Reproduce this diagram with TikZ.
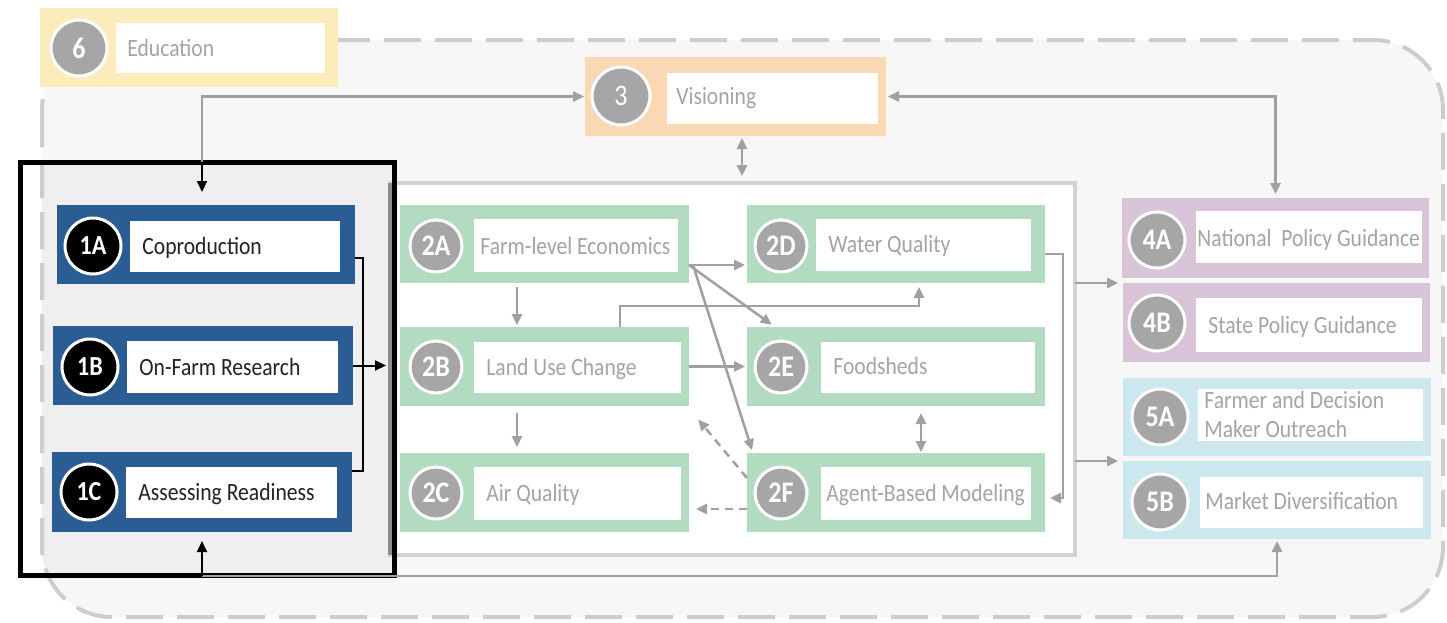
\documentclass[tikz,border=0pt]{standalone}
\usepackage{fontspec}
\setmainfont{Carlito}
\usetikzlibrary{arrows.meta,fit,calc}

\definecolor{framefill}{HTML}{F7F7F7}
\definecolor{framedash}{HTML}{CDCDCD}
\definecolor{panelgray}{HTML}{EFEFEF}
\definecolor{eduyellow}{HTML}{FDECBB}
\definecolor{visorange}{HTML}{FBD8B4}
\definecolor{coblue}{HTML}{2B5C94}
\definecolor{modgreen}{HTML}{B3DBC2}
\definecolor{polmauve}{HTML}{D9C4D7}
\definecolor{outblue}{HTML}{CDE7EE}
\definecolor{numgray}{HTML}{A6A6A6}
\definecolor{labgray}{HTML}{A4A4A4}
\definecolor{darktext}{HTML}{222222}
\definecolor{linkgray}{HTML}{A0A0A0}
\definecolor{hubborder}{HTML}{D2D2D2}
\definecolor{hubedge}{HTML}{8C8C8C}

% labels are set slightly taller than the font's natural shape
\newcommand\tallbox[1]{\scalebox{1}[1.15]{#1}}

\tikzset{
  region/.style={inner sep=0pt, outer sep=0pt, draw=none},
  whitebox/.style={region, fill=white},
  num/.style={circle, fill=numgray, draw=white, line width=1.5pt, minimum size=28pt,
    inner sep=0pt, text=white, font=\fontsize{13}{15}\selectfont\bfseries},
  numsmall/.style={num, minimum size=26pt},
  numdark/.style={num, fill=black, font=\fontsize{12}{14}\selectfont\bfseries},
  lab/.style={anchor=base west, inner sep=0pt, text=labgray, font=\fontsize{10.8}{14.5}\selectfont},
  labdark/.style={lab, text=darktext},
  link/.style={draw=linkgray, line width=1.25pt, -{Triangle[length=5.5pt,width=5pt]}},
  dualink/.style={link, {Triangle[length=5.5pt,width=5pt]}-{Triangle[length=5.5pt,width=5pt]}},
  dashlink/.style={link, dash pattern=on 4pt off 3pt},
  blink/.style={draw=black, line width=1pt, -{Triangle[length=5.5pt,width=5pt]}},
}

\begin{document}
\begin{tikzpicture}[x=0.5pt, y=-0.5pt]
\useasboundingbox (0,0) rectangle (1447,622);

% outer dashed frame: background and shaded panel behind group 1
\fill[framefill, rounded corners=35pt] (42,40) rectangle (1443,617);
\begin{scope}
  \clip[rounded corners=35pt] (42,40) rectangle (1443,617);
  \fill[panelgray] (20,162) rectangle (394,575);
\end{scope}
\draw[framedash, line width=2pt, dash pattern=on 18.5pt off 7pt, rounded corners=35pt]
  (42,40) rectangle (1443,617);

% group 2 container
\node[region, fill=white, draw=hubborder, line width=2pt, fit={(390,183) (1075,555)}] (hub) {};
\draw[hubedge, line width=2.5pt] (hub.north west) -- (hub.south west);

% frame around group 1
\node[region, draw=black, line width=2.5pt, fit={(20,162) (394,575)}] (grp1) {};

% 6 Education
\node[region, fill=eduyellow, fit={(40,8) (338,87)}] (b6) {};
\node[whitebox, fit={(116,23) (325,73)}] (w6) {};
\node[num] (n6) at (79,48) {\tallbox{6}};
\node[lab] (t6) at (127,56) {\tallbox{Education}};

% 3 Visioning
\node[region, fill=visorange, fit={(585,57) (886,136)}] (b3) {};
\node[whitebox, fit={(667,73) (878,124)}] (w3) {};
\node[num, minimum size=29pt, font=\fontsize{13}{15}\selectfont] (n3) at (621,96) {\tallbox{3}};
\node[lab] (t3) at (676,104) {\tallbox{Visioning}};

% 1A-1C
\node[region, fill=coblue, fit={(57,205) (355,284)}] (b1A) {};
\node[whitebox, fit={(130,221) (340,272)}] (w1A) {};
\node[numdark] (n1A) at (93,246) {\tallbox{1A}};
\node[labdark] (t1A) at (142,254) {\tallbox{Coproduction}};

\node[region, fill=coblue, fit={(53,326) (353,405)}] (b1B) {};
\node[whitebox, fit={(127,341) (338,393)}] (w1B) {};
\node[numdark] (n1B) at (90,367) {\tallbox{1B}};
\node[labdark] (t1B) at (139,375) {\tallbox{On-Farm Research}};

\node[region, fill=coblue, fit={(52,452) (352,532)}] (b1C) {};
\node[whitebox, fit={(126,467) (337,518)}] (w1C) {};
\node[numdark] (n1C) at (89,492) {\tallbox{1C}};
\node[labdark] (t1C) at (138,500) {\tallbox{Assessing Readiness}};

% 2A-2F
\node[region, fill=modgreen, fit={(400,205) (689,283)}] (b2A) {};
\node[whitebox, fit={(474,219) (678,272)}] (w2A) {};
\node[numsmall] (n2A) at (436,246) {\tallbox{2A}};
\node[lab] (t2A) at (480,254) {\tallbox{Farm-level Economics}};

\node[region, fill=modgreen, fit={(400,327) (689,406)}] (b2B) {};
\node[whitebox, fit={(474,342) (681,393)}] (w2B) {};
\node[numsmall] (n2B) at (436,367) {\tallbox{2B}};
\node[lab] (t2B) at (486,375) {\tallbox{Land Use Change}};

\node[region, fill=modgreen, fit={(400,453) (689,532)}] (b2C) {};
\node[whitebox, fit={(474,467) (681,520)}] (w2C) {};
\node[numsmall] (n2C) at (436,493) {\tallbox{2C}};
\node[lab] (t2C) at (486,501) {\tallbox{Air Quality}};

\node[region, fill=modgreen, fit={(747,205) (1045,283)}] (b2D) {};
\node[whitebox, fit={(816,219) (1031,271)}] (w2D) {};
\node[numsmall] (n2D) at (781,246) {\tallbox{2D}};
\node[lab] (t2D) at (828,252) {\tallbox{Water Quality}};

\node[region, fill=modgreen, fit={(747,327) (1045,406)}] (b2E) {};
\node[whitebox, fit={(821,342) (1035,393)}] (w2E) {};
\node[numsmall] (n2E) at (781,367) {\tallbox{2E}};
\node[lab] (t2E) at (833,374) {\tallbox{Foodsheds}};

\node[region, fill=modgreen, fit={(747,453) (1045,532)}] (b2F) {};
\node[whitebox, fit={(821,467) (1031,520)}] (w2F) {};
\node[numsmall] (n2F) at (781,493) {\tallbox{2F}};
\node[lab] (t2F) at (826,501) {\tallbox{Agent-Based Modeling}};

% 4A-4B
\node[region, fill=polmauve, fit={(1122,198) (1429,278)}] (b4A) {};
\node[whitebox, fit={(1196,211) (1422,263)}] (w4A) {};
\node[num] (n4A) at (1157,240) {\tallbox{4A}};
\node[lab] (t4A) at (1197,246) {\tallbox{National~~Policy Guidance}};

\node[region, fill=polmauve, fit={(1123,283) (1430,362)}] (b4B) {};
\node[whitebox, fit={(1196,298) (1422,352)}] (w4B) {};
\node[num] (n4B) at (1157,323) {\tallbox{4B}};
\node[lab] (t4B) at (1208,333) {\tallbox{State Policy Guidance}};

% 5A-5B
\node[region, fill=outblue, fit={(1123,378) (1431,456)}] (b5A) {};
\node[whitebox, fit={(1198,389) (1423,441)}] (w5A) {};
\node[num] (n5A) at (1160,417) {\tallbox{5A}};
\node[lab] (t5A) at (1204,408) {\tallbox{Farmer and Decision}};
\node[lab] (t5Ab) at (1204,437) {\tallbox{Maker Outreach}};

\node[region, fill=outblue, fit={(1123,461) (1431,539)}] (b5B) {};
\node[whitebox, fit={(1200,477) (1423,528)}] (w5B) {};
\node[num] (n5B) at (1160,502) {\tallbox{5B}};
\node[lab] (t5B) at (1205,509) {\tallbox{Market Diversification}};

% junction points for routed connectors
\coordinate (j1) at (363,368);
\coordinate (topL) at (202,162);
\coordinate (botL) at (202,576);
\coordinate (wqRoute) at (800,306);
\coordinate (abmRoute) at (1063,380);

% group 1 feeds group 2
\draw[draw=black, line width=1pt] ([yshift=-6.75pt]b1A.east) -| (j1) |- ([yshift=10.5pt]b1C.east);
\draw[blink, shorten >=2pt] (b1B.east) -- (b1B.east -| hub.west);

% loop through visioning
\draw[link, shorten >=0.5pt] (topL) |- (b3.west);
\draw[blink, shorten >=6.5pt] (topL) -- (topL |- b1A.north);
\draw[dualink, shorten <=1pt, shorten >=2pt] (b3.east) -| (b4A.north);
\draw[dualink, shorten <=1pt, shorten >=3.5pt] ([xshift=3.25pt]b3.south) -- ([xshift=3.25pt]b3.south |- hub.north);

% return path to outreach
\draw[link, shorten >=1pt] (botL) -| (b5B.south);
\draw[blink, shorten >=4.5pt] (botL) -- (botL |- b1C.south);

% links within group 2
\draw[link, shorten <=2pt, shorten >=1pt] ([xshift=-13.75pt]b2A.south) -- ([xshift=-13.75pt]b2B.north);
\draw[link, shorten <=3.5pt, shorten >=3pt] ([xshift=-13.75pt]b2B.south) -- ([xshift=-13.75pt]b2C.north);
\draw[link, shorten >=1pt] ([yshift=-10.5pt]b2A.east) -- ([yshift=-10.5pt]b2A.east -| b2D.west);
\draw[link, shorten >=2pt] ([yshift=-10.5pt]b2A.east) -- ([xshift=14pt]b2E.north west);
\draw[link, shorten >=1.5pt] ([yshift=-10.5pt,xshift=2pt]b2A.east) -- ([xshift=3pt]b2F.north west);
\draw[link, shorten >=2pt] ([xshift=37.75pt]b2B.north) |- (wqRoute) -| ([xshift=11.5pt]b2D.south);
\draw[link, shorten >=1pt] (b2B.east) -- (b2E.west);
\draw[dashlink, shorten >=1pt] ([yshift=7.25pt]b2F.west) -- ([xshift=4pt,yshift=-6pt]b2B.south east);
\draw[dashlink, shorten >=3.5pt] ([yshift=-8.25pt]b2F.west) -- ([yshift=-8.25pt]b2C.east);
\draw[dualink, shorten <=3.5pt, shorten >=0.5pt] ([xshift=12.5pt]b2E.south) -- ([xshift=12.5pt]b2F.north);
\draw[link, shorten >=2.5pt] ([yshift=-5pt]b2D.east) -| (abmRoute) |- ([yshift=-2.75pt]b2F.east);

% group 2 feeds policy and outreach
\draw[link, shorten >=2.5pt] (hub.east |- b4B.north west) -- (b4B.north west);
\draw[link, shorten >=2.5pt] (hub.east |- b5B.north west) -- (b5B.north west);
\end{tikzpicture}
\end{document}
